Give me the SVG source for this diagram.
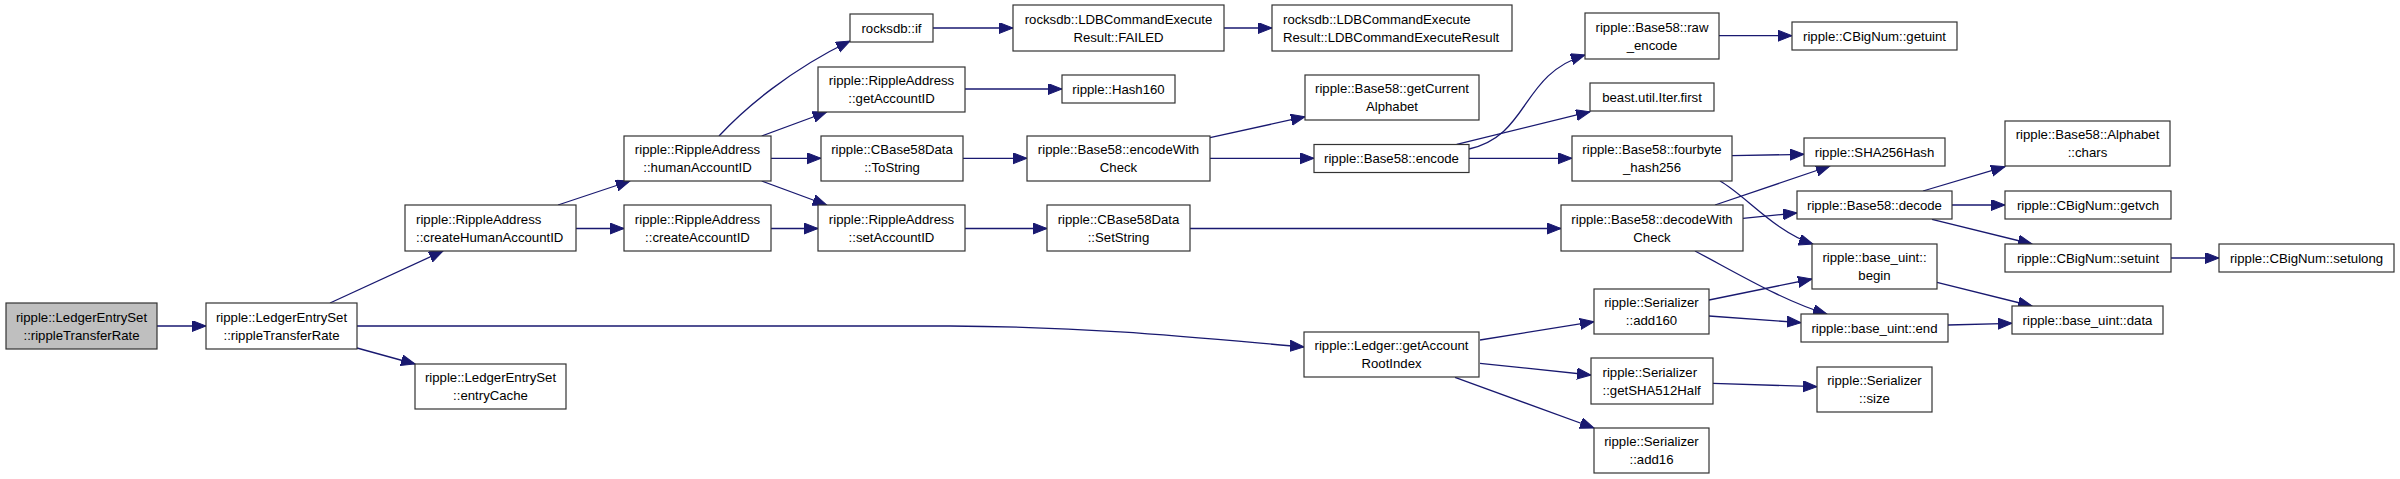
<svg xmlns="http://www.w3.org/2000/svg" width="2400" height="479" viewBox="0 0 2400 479">
<style>
.n rect{fill:#fff;stroke:#333;stroke-width:1.2}
.n.root rect{fill:#bfbfbf}
.n text{font-family:"Liberation Sans",Arial,sans-serif;font-size:13.2px;fill:#000;text-anchor:middle}
.n text.l{text-anchor:start}
#edges path{fill:none;stroke:#191970;stroke-width:1.3;marker-end:url(#a)}
</style>
<defs>
<marker id="a" markerWidth="16" markerHeight="12" refX="14" refY="5.5" orient="auto" markerUnits="userSpaceOnUse">
<path d="M0,0 L14,5.5 L0,11 z" fill="#191970" stroke="#191970" stroke-width="1"/>
</marker>
</defs>
<rect width="2400" height="479" fill="#fff"/>
<g id="edges">
<path d="M157,326 L206,326"/>
<path d="M330,303 L443,251"/>
<path d="M357,326 L950,326 C1100,327 1200,338 1304,347"/>
<path d="M357,348 L415,364"/>
<path d="M558,205 L630,181"/>
<path d="M576,228.5 L624,228.5"/>
<path d="M719,136 C745,108 790,70 850,41"/>
<path d="M761.7,136 L826.7,112"/>
<path d="M771,158.3 L821,158.3"/>
<path d="M761.7,181 L826.7,205"/>
<path d="M771,228.5 L818,228.5"/>
<path d="M933,28 L1013,28"/>
<path d="M965,89 L1062,89"/>
<path d="M963,158.3 L1027,158.3"/>
<path d="M965,228.5 L1047,228.5"/>
<path d="M1224,28 L1272,28"/>
<path d="M1210,137.7 L1305,116.7"/>
<path d="M1210,158.3 L1314,158.3"/>
<path d="M1190,228.5 L1561,228.5"/>
<path d="M1469,149 C1530,135 1520,75 1585,55"/>
<path d="M1456.7,144.3 L1590,111.7"/>
<path d="M1469,158.3 L1572,158.3"/>
<path d="M1719,35.7 L1792,35.7"/>
<path d="M1732,155.7 L1804,154.3"/>
<path d="M1720,181 C1745,195 1775,232 1813,244"/>
<path d="M1743,218.3 L1797,213"/>
<path d="M1695,251 C1735,272 1785,302 1827,314"/>
<path d="M1715,205 L1830,166"/>
<path d="M1923,191 L2005,166.7"/>
<path d="M1952,205 L2005,205"/>
<path d="M1932,219.3 L2032,244"/>
<path d="M2171,258 L2219,258"/>
<path d="M1937,282.3 L2032,306"/>
<path d="M1948,325 L2012,323.3"/>
<path d="M1480,340 L1594,321.7"/>
<path d="M1480,363.3 L1591,375"/>
<path d="M1455,377.3 L1594,428"/>
<path d="M1709,300 L1812,279"/>
<path d="M1709,316 L1801,322.7"/>
<path d="M1713,383.3 L1817,386.7"/>
</g>
<g id="n0" class="n root"><rect x="6" y="303" width="151" height="46"/><text x="81.5" y="321.5">ripple::LedgerEntrySet</text><text x="81.5" y="339.5">::rippleTransferRate</text></g>
<g id="n1" class="n"><rect x="206" y="303" width="151" height="46"/><text x="281.5" y="321.5">ripple::LedgerEntrySet</text><text x="281.5" y="339.5">::rippleTransferRate</text></g>
<g id="n2" class="n"><rect x="405" y="205" width="171" height="46"/><text class="l" x="416" y="223.5">ripple::RippleAddress</text><text class="l" x="416" y="241.5">::createHumanAccountID</text></g>
<g id="n3" class="n"><rect x="624" y="136" width="147" height="45"/><text x="697.5" y="154">ripple::RippleAddress</text><text x="697.5" y="172">::humanAccountID</text></g>
<g id="n4" class="n"><rect x="624" y="205" width="147" height="46"/><text x="697.5" y="223.5">ripple::RippleAddress</text><text x="697.5" y="241.5">::createAccountID</text></g>
<g id="n5" class="n"><rect x="415" y="364" width="151" height="45"/><text x="490.5" y="382">ripple::LedgerEntrySet</text><text x="490.5" y="400">::entryCache</text></g>
<g id="n6" class="n"><rect x="850" y="14" width="83" height="28"/><text x="891.5" y="32.5">rocksdb::if</text></g>
<g id="n7" class="n"><rect x="818" y="67" width="147" height="45"/><text x="891.5" y="85">ripple::RippleAddress</text><text x="891.5" y="103">::getAccountID</text></g>
<g id="n8" class="n"><rect x="821" y="136" width="142" height="45"/><text x="892" y="154">ripple::CBase58Data</text><text x="892" y="172">::ToString</text></g>
<g id="n9" class="n"><rect x="818" y="205" width="147" height="46"/><text x="891.5" y="223.5">ripple::RippleAddress</text><text x="891.5" y="241.5">::setAccountID</text></g>
<g id="n10" class="n"><rect x="1013" y="5" width="211" height="46"/><text x="1118.5" y="23.5">rocksdb::LDBCommandExecute</text><text x="1118.5" y="41.5">Result::FAILED</text></g>
<g id="n11" class="n"><rect x="1062" y="75" width="113" height="28"/><text x="1118.5" y="93.5">ripple::Hash160</text></g>
<g id="n12" class="n"><rect x="1027" y="136" width="183" height="45"/><text x="1118.5" y="154">ripple::Base58::encodeWith</text><text x="1118.5" y="172">Check</text></g>
<g id="n13" class="n"><rect x="1047" y="205" width="143" height="46"/><text x="1118.5" y="223.5">ripple::CBase58Data</text><text x="1118.5" y="241.5">::SetString</text></g>
<g id="n14" class="n"><rect x="1272" y="5" width="240" height="46"/><text class="l" x="1283" y="23.5">rocksdb::LDBCommandExecute</text><text class="l" x="1283" y="41.5">Result::LDBCommandExecuteResult</text></g>
<g id="n15" class="n"><rect x="1305" y="75" width="174" height="45"/><text x="1392" y="93">ripple::Base58::getCurrent</text><text x="1392" y="111">Alphabet</text></g>
<g id="n16" class="n"><rect x="1314" y="144.5" width="155" height="28"/><text x="1391.5" y="163">ripple::Base58::encode</text></g>
<g id="n17" class="n"><rect x="1585" y="13" width="134" height="46"/><text x="1652" y="31.5">ripple::Base58::raw</text><text x="1652" y="49.5">_encode</text></g>
<g id="n18" class="n"><rect x="1590" y="83" width="124" height="28"/><text x="1652" y="101.5">beast.util.Iter.first</text></g>
<g id="n19" class="n"><rect x="1572" y="136" width="160" height="45"/><text x="1652" y="154">ripple::Base58::fourbyte</text><text x="1652" y="172">_hash256</text></g>
<g id="n20" class="n"><rect x="1561" y="205" width="182" height="46"/><text x="1652" y="223.5">ripple::Base58::decodeWith</text><text x="1652" y="241.5">Check</text></g>
<g id="n21" class="n"><rect x="1304" y="332" width="175" height="45"/><text x="1391.5" y="350">ripple::Ledger::getAccount</text><text x="1391.5" y="368">RootIndex</text></g>
<g id="n22" class="n"><rect x="1792" y="22" width="165" height="28"/><text x="1874.5" y="40.5">ripple::CBigNum::getuint</text></g>
<g id="n23" class="n"><rect x="1804" y="138" width="141" height="28"/><text x="1874.5" y="156.5">ripple::SHA256Hash</text></g>
<g id="n24" class="n"><rect x="1797" y="191" width="155" height="28"/><text x="1874.5" y="209.5">ripple::Base58::decode</text></g>
<g id="n25" class="n"><rect x="1812" y="244" width="125" height="45"/><text x="1874.5" y="262">ripple::base_uint::</text><text x="1874.5" y="280">begin</text></g>
<g id="n26" class="n"><rect x="1594" y="289" width="115" height="45"/><text x="1651.5" y="307">ripple::Serializer</text><text x="1651.5" y="325">::add160</text></g>
<g id="n27" class="n"><rect x="1801" y="314" width="147" height="28"/><text x="1874.5" y="332.5">ripple::base_uint::end</text></g>
<g id="n28" class="n"><rect x="1591" y="358" width="122" height="46"/><text class="l" x="1602.5" y="376.5">ripple::Serializer</text><text class="l" x="1602.5" y="394.5">::getSHA512Half</text></g>
<g id="n29" class="n"><rect x="1594" y="428" width="115" height="45"/><text x="1651.5" y="446">ripple::Serializer</text><text x="1651.5" y="464">::add16</text></g>
<g id="n30" class="n"><rect x="1817" y="367" width="115" height="45"/><text x="1874.5" y="385">ripple::Serializer</text><text x="1874.5" y="403">::size</text></g>
<g id="n31" class="n"><rect x="2005" y="121" width="165" height="45"/><text x="2087.5" y="139">ripple::Base58::Alphabet</text><text x="2087.5" y="157">::chars</text></g>
<g id="n32" class="n"><rect x="2005" y="191" width="166" height="28"/><text x="2088" y="209.5">ripple::CBigNum::getvch</text></g>
<g id="n33" class="n"><rect x="2005" y="244" width="166" height="28"/><text x="2088" y="262.5">ripple::CBigNum::setuint</text></g>
<g id="n34" class="n"><rect x="2219" y="244" width="175" height="28"/><text x="2306.5" y="262.5">ripple::CBigNum::setulong</text></g>
<g id="n35" class="n"><rect x="2012" y="306" width="151" height="28"/><text x="2087.5" y="324.5">ripple::base_uint::data</text></g>
</svg>
